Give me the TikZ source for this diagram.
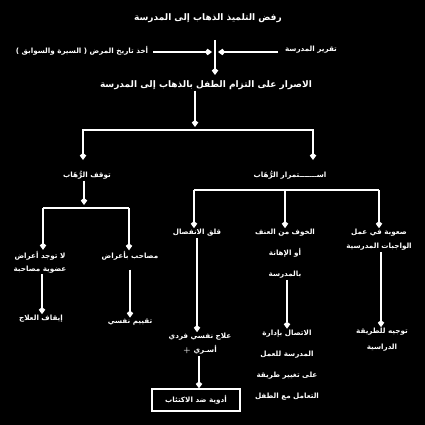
\documentclass[tikz,border=0pt]{standalone}
\usepackage{fontspec}
\usetikzlibrary{arrows.meta,calc}
\TeXXeTstate=1
\newfontfamily\arabicfont[Script=Arabic]{DejaVu Sans}
\newcommand{\artxt}[1]{{\arabicfont\beginR #1\endR}}
\tikzset{
  lbl/.style={text=white, inner sep=1pt, font=\fontsize{7.2}{9}\selectfont\bfseries, align=center},
  big/.style={lbl, font=\fontsize{9}{11}\selectfont\bfseries},
  ln/.style={draw=white, line width=1.2pt},
  arr/.style={ln, -{Kite[length=7pt,width=6.5pt,inset=2.5pt]}},
  boxed/.style={lbl, draw=white, line width=1.2pt, minimum width=88pt, minimum height=22pt}
}
\begin{document}
\begin{tikzpicture}[x=1pt,y=-1pt]
\fill[black] (0,0) rectangle (425,425);
\useasboundingbox (0,0) rectangle (425,425);
% top
\node[big] (title) at (208,18) {\artxt{رفض التلميذ الذهاب إلى المدرسة}};
\node[lbl] (hist) at (82,51) {\artxt{أخذ تاريخ المرض ( السيرة والسوابق )}};
\node[lbl] (report) at (311,50) {\artxt{تقرير المدرسة}};
\node[big] (insist) at (206,85) {\artxt{الاصرار على التزام الطفل بالذهاب إلى المدرسة}};
\coordinate (vtop) at (215,40);
\coordinate (vbot) at (215,75);
\coordinate (lin) at (212,52);
\coordinate (rin) at (218,52);
\draw[arr] (vtop) -- (vbot);
\draw[arr] (hist.east -| 153,0) ++(0,1) -- (lin);
\draw[arr] (report.west -| 278,0) ++(0,2) -- (rin);
% first split
\coordinate (s1) at (195,127);
\draw[arr] (insist.south -| s1) -- (s1);
\node[lbl] (stop) at (87,175) {\artxt{توقف الرُّهَاب}};
\node[lbl] (cont) at (290,175) {\artxt{اســـــــتمرار الرُّهَاب}};
\draw[ln] (83,158) -- (83,130) -- (313,130) -- (313,158);
\draw[arr] (83,130) -- (83,160) coordinate (a1);
\draw[arr] (313,130) -- (313,160) coordinate (a2);
% left branch
\draw[arr] (stop.south -| 84,0) -- (84,205);
\draw[ln] (43,208) -- (129,208);
\node[lbl, font=\fontsize{7.2}{13}\selectfont\bfseries] (nosym) at (40,262) {\artxt{لا توجد أعراض}\\\artxt{عضوية مصاحبة}};
\node[lbl] (withsym) at (130,256) {\artxt{مصاحب بأعراض}};
\draw[arr] (43,208) -- (nosym.north -| 43,0);
\draw[arr] (129,208) -- (withsym.north -| 129,0);
% right branch
\draw[ln] (194,190) -- (379,190);
\node[lbl] (sep) at (197,233) {\artxt{قلق الانفصال}};
\node[lbl, font=\fontsize{7.2}{21}\selectfont\bfseries] (fear) at (285,254) {\artxt{الخوف من العنف}\\\artxt{أو الإهانة}\\\artxt{بالمدرسة}};
\node[lbl, font=\fontsize{7.2}{14}\selectfont\bfseries] (diff) at (379,240) {\artxt{صعوبة في عمل}\\\artxt{الواجبات المدرسية}};
\draw[arr] (194,190) -- (sep.north -| 194,0);
\draw[arr] (285,190) -- (fear.north -| 285,0);
\draw[arr] (379,190) -- (diff.north -| 379,0);
% bottom row
\node[lbl] (stoptx) at (41,319) {\artxt{إيقاف العلاج}};
\node[lbl] (evaltx) at (130,322) {\artxt{تقييم نفسي}};
\node[lbl, font=\fontsize{7.2}{14}\selectfont\bfseries] (therapy) at (200,344) {\artxt{علاج نفسي فردي}\\+ \artxt{أسـري}};
\node[lbl, font=\fontsize{7.2}{21}\selectfont\bfseries] (contact) at (287,365) {\artxt{الاتصال بإدارة}\\\artxt{المدرسة للعمل}\\\artxt{على تغيير طريقة}\\\artxt{التعامل مع الطفل}};
\node[lbl, font=\fontsize{7.2}{16}\selectfont\bfseries] (guide) at (382,340) {\artxt{توجيه للطريقة}\\\artxt{الدراسية}};
\node[boxed] (drug) at (196,400) {\artxt{أدوية ضد الاكتئاب}};
\draw[arr] (nosym.south -| 42,0) -- (stoptx.north -| 42,0);
\draw[arr] (withsym.south -| 130,0) ++(0,8) -- (evaltx.north -| 130,0);
\draw[arr] (sep.south -| 197,0) -- (therapy.north -| 197,0);
\draw[arr] (therapy.south -| 199,0) -- (drug.north -| 199,0);
\draw[arr] (fear.south -| 287,0) -- (contact.north -| 287,0);
\draw[arr] (diff.south -| 381,0) -- (guide.north -| 381,0);
\end{tikzpicture}
\end{document}
